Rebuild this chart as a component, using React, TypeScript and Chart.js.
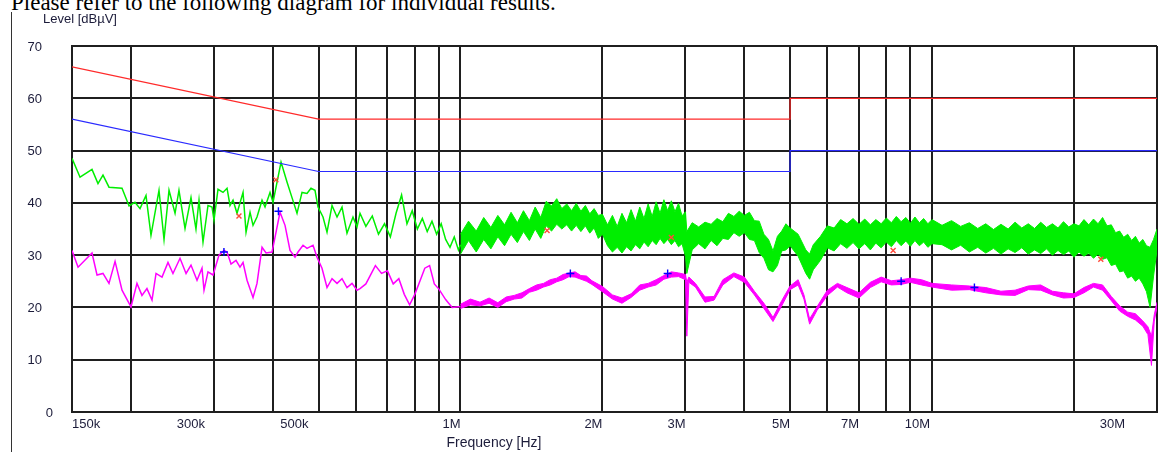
import React, { useEffect, useRef } from 'react';
import { Chart, registerables } from 'chart.js';

Chart.register(...registerables);

// ---------- data ----------
const gridFreqs = [
  150e3, 200e3, 300e3, 400e3, 500e3, 600e3, 700e3, 800e3, 900e3,
  1e6, 2e6, 3e6, 4e6, 5e6, 6e6, 7e6, 8e6, 9e6, 10e6, 20e6, 30e6,
];
const xTickValues = [150e3, 300e3, 500e3, 1e6, 2e6, 3e6, 5e6, 7e6, 10e6, 30e6];
const xTickLabels = ['150k', '300k', '500k', '1M', '2M', '3M', '5M', '7M', '10M', '30M'];
const yTickValues = [0, 10, 20, 30, 40, 50, 60, 70];

// limits (kHz, dBµV)
const qpLimitFreq = [150, 500, 5000, 5000, 30000];
const qpLimitLevel = [66, 56, 56, 60, 60];
const avLimitFreq = [150, 500, 5000, 5000, 30000];
const avLimitLevel = [56, 46, 46, 50, 50];

// final measurement markers (kHz, dBµV)
const qpMarkFreq = [339, 406, 1526, 2800, 8270, 22800];
const qpMarkLevel = [37.5, 44.4, 34.7, 33.4, 30.9, 29.2];
const avMarkFreq = [315, 411, 1710, 2750, 8600, 12300];
const avMarkLevel = [30.6, 38.4, 26.5, 26.5, 25.0, 23.8];

// peak trace (green), 150 kHz – 1 MHz, single sweep line
const peakFreq = [
  150, 156, 165.4, 170.3, 174.5, 179.7, 191.5, 198.2, 204, 209.1, 215.3, 220.6, 229.4, 235.1,
  240.9, 248.1, 252.9, 260.5, 268.2, 274.8, 278.9, 284.4, 291.4, 297.2, 300.1, 306, 313.6,
  319.8, 324.5, 329.3, 335.8, 345.8, 350.9, 357.8, 363.1, 370.2, 379.4, 385, 394.5, 400.3,
  416.3, 428.6, 439.2, 450.1, 461.2, 472.6, 481.9, 491.4, 498.7, 511, 521.1, 534, 547.2,
  560.7, 574.5, 591.6, 603.3, 612.2,
  630, 650, 670, 690, 710, 730, 750, 770, 790, 810, 830, 850, 870, 890, 910, 930, 950, 970, 990,
  1000,
];
const peakLevel = [
  48.5, 44.9, 46.4, 43.7, 45.3, 43.0, 42.8, 39.4, 40.1, 38.9, 41.4, 33.8, 42.4, 33.0,
  42.4, 38.0, 42.4, 35.1, 41.0, 35.0, 40.5, 32.5, 39.5, 39.2, 36.7, 42.6, 42.0,
  42.8, 39.5, 40.5, 38.0, 42.0, 34.4, 38.2, 35.7, 37.3, 40.5, 39.2, 42.0, 40.1,
  47.8, 44.0, 41.0, 38.0, 42.0, 41.8, 42.8, 42.4, 39.2, 37.3, 34.4, 39.5, 37.3,
  39.2, 34.2, 37.3, 35.4, 38.0,
  35.5, 37.5, 34, 36, 33.5, 38, 41.5, 36, 38.5, 35, 37, 34.5, 36.5, 34, 36, 33, 31.5, 33.5, 31,
  32,
];

// peak trace (green), 1 MHz – 30 MHz, dense sweep: upper / lower envelope
const peakBandFreq = [
  1000, 1040, 1080, 1120, 1160, 1200, 1240, 1280, 1320, 1360, 1400, 1440, 1480, 1520, 1560,
  1600, 1640, 1680, 1720, 1760, 1800, 1840, 1880, 1920, 1960, 2000,
  2050, 2100, 2150, 2200, 2250, 2300, 2350, 2400, 2450, 2500, 2550, 2600, 2650, 2700, 2750,
  2800, 2850, 2900, 2950, 3000, 3020,
  3100, 3200, 3300, 3400, 3500, 3600, 3700, 3800, 3900, 4000, 4100, 4200, 4300, 4400, 4500,
  4600, 4700, 4800, 4900, 5000,
  5200, 5400, 5500, 5600, 5800, 6000, 6200, 6400, 6600, 6800, 7000, 7200, 7400, 7600, 7800,
  8000, 8200, 8400, 8600, 8800, 9000, 9200, 9400, 9600, 9800, 10000,
  10500, 11000, 11500, 12000, 12500, 13000, 13500, 14000, 14500, 15000, 15500, 16000, 16500,
  17000, 17500, 18000, 18500, 19000, 19500, 20000, 20500, 21000, 21500, 22000, 22500, 23000,
  23500, 24000, 24500, 25000, 25500, 26000, 26500, 27000, 27500, 28000, 28500, 29000, 29500,
  30000,
];
const peakBandUpper = [
  34.0, 36.5, 34.6, 37.2, 35.3, 37.6, 35.8, 38.2, 36.2, 38.5, 36.6, 39.2, 37.2, 40.3, 39.4,
  40.8, 38.9, 39.8, 38.5, 39.9, 38.4, 39.5, 37.9, 38.9, 37.6, 37.8,
  35.8, 37.6, 35.5, 38.0, 36.2, 38.7, 36.5, 39.2, 37.0, 39.8, 37.4, 40.2, 38.0, 40.6, 38.5,
  40.4, 38.3, 39.9, 37.5, 38.3, 34.5,
  36.2, 35.4, 36.3, 35.9, 37.0, 36.4, 38.0, 37.4, 38.4, 37.6, 38.2, 36.6, 36.5, 34.0, 33.0,
  30.8, 33.6, 34.6, 36.0, 35.2,
  34.0, 31.0, 30.2, 32.0, 33.6, 35.6, 35.2, 36.8, 36.0, 37.0, 35.9, 36.9, 35.8, 36.8, 36.0,
  37.1, 36.2, 37.4, 36.4, 37.2, 36.1, 37.3, 36.2, 37.0, 36.0, 36.8,
  35.7, 36.6, 35.5, 36.2, 35.1, 36.0, 34.9, 35.9, 35.0, 36.3, 35.2, 36.0, 35.1,
  36.3, 35.3, 36.0, 35.2, 36.4, 35.4, 36.0, 35.6, 36.8, 35.8, 36.9, 36.0, 37.2,
  35.6, 35.8, 34.3, 34.6, 33.4, 34.0, 32.8, 33.6, 32.3, 33.0, 31.8, 31.5, 33.0,
  35.0,
];
const peakBandLower = [
  30.2, 32.8, 30.6, 33.0, 31.2, 33.5, 31.8, 34.0, 32.4, 34.5, 32.8, 35.0, 33.2, 35.6, 34.6,
  35.9, 35.0, 35.8, 34.6, 35.7, 34.5, 35.6, 34.2, 35.2, 33.2, 34.0,
  31.8, 30.6, 31.5, 30.4, 31.6, 30.8, 32.0, 31.2, 32.5, 31.6, 32.8, 32.0, 33.2, 32.2, 33.0,
  32.0, 32.8, 31.6, 32.2, 29.8, 26.5,
  31.0, 32.2, 31.2, 32.8, 31.8, 33.2, 33.0, 34.3, 33.6, 34.3, 33.0, 32.8, 30.5, 29.4, 27.2,
  26.8, 28.0, 30.8, 31.0, 31.8,
  29.8, 26.5, 25.4, 27.2, 29.0, 31.4, 30.8, 32.2, 31.3, 32.4, 31.2, 32.2, 31.0, 32.3, 31.4,
  32.5, 31.6, 32.8, 31.8, 32.7, 31.7, 32.8, 31.8, 32.5, 31.5, 32.2,
  32.0, 31.0, 31.9, 30.6, 31.5, 30.4, 31.3, 30.2, 31.2, 30.5, 31.4, 30.2, 31.0,
  30.3, 31.2, 30.0, 30.9, 30.1, 30.8, 29.6, 30.6, 29.8, 30.4, 29.4, 30.2, 29.2,
  29.5, 28.0, 28.3, 26.8, 27.0, 25.6, 26.0, 25.0, 25.6, 24.5, 23.0, 20.0, 26.0,
  31.0,
];

// average trace (magenta), 150 kHz – 1 MHz
const avgFreq = [
  150, 154.5, 165.4, 169.5, 174.5, 179.7, 185.1, 191.5, 200.1, 206, 211.1, 216.3, 221.7, 226.1,
  232.8, 239.7, 245.6, 254.2, 261.8, 268.2, 276.2, 283, 285.8, 291.4, 298.7, 307.5, 315.1,
  319.8, 326.1, 334.1, 340.7, 345.8, 352.6, 363.1, 370.2, 379.4, 386.9, 398.4, 404.2, 414.2,
  424.5, 435, 445.7, 452.3, 463.5, 472.6, 486.7, 496.3, 508.5, 521.1, 534, 547.2, 560.7,
  574.5, 588.8, 603.3, 612.2,
  630, 660, 680, 700, 720, 740, 760, 780, 800, 820, 840, 860, 880, 900, 930, 960, 1000,
];
const avgLevel = [
  30.9, 27.7, 30.4, 26.2, 26.5, 24.6, 28.8, 23.3, 20.1, 24.6, 22.3, 23.6, 21.4, 26.5,
  25.8, 28.6, 26.5, 29.4, 26.5, 28.1, 25.2, 27.5, 23.3, 26.8, 26.2, 30.0, 30.9,
  30.6, 28.3, 29.0, 27.7, 28.6, 25.2, 21.9, 24.6, 31.5, 30.4, 30.6, 33.4, 38.2,
  35.7, 30.9, 29.6, 30.6, 31.9, 31.3, 31.9, 29.6, 27.5, 23.8, 25.5, 24.6, 25.5,
  23.8, 24.6, 23.3, 23.6,
  24.5, 28, 26.5, 27, 24.5, 25.5, 22.5, 20.5, 22.5, 25, 27.5, 28, 24.5, 23.5, 21.5, 20, 20.2,
];

// average trace (magenta), 1 MHz – 30 MHz: upper / lower envelope
const avgBandFreq = [
  1000, 1050, 1100, 1150, 1200, 1250, 1300, 1350, 1400, 1450, 1500, 1550, 1600, 1650, 1700,
  1750, 1800, 1850, 1900, 2000, 2100, 2200, 2300, 2400, 2500, 2600, 2700, 2800, 2900, 3000,
  3020, 3050, 3150, 3300, 3450, 3600, 3800, 4000, 4200, 4400, 4600, 4800, 5000, 5200, 5350,
  5500, 5700, 6000, 6300, 6600, 7000, 7400, 7800, 8200, 8600, 9000, 9500, 10000, 11000, 12000,
  13000, 14000, 15000, 16000, 17000, 18000, 19000, 20000, 21000, 22000, 23000, 24000, 25000,
  26000, 27000, 28000, 28700, 29200, 29600, 30000,
];
const avgBandUpper = [
  20.6, 21.6, 21.0, 21.8, 20.9, 22.0, 22.3, 22.8, 23.6, 24.3, 24.6, 25.3, 25.6, 26.3, 26.6,
  26.8, 26.1, 26.0, 25.1, 24.0, 22.4, 21.8, 22.6, 24.3, 24.6, 25.3, 26.1, 26.8, 26.6, 26.3,
  24.8, 25.8, 24.6, 22.0, 22.1, 25.3, 26.6, 25.8, 23.1, 20.8, 18.1, 21.3, 24.1, 25.3, 22.4,
  17.8, 20.1, 23.3, 24.6, 23.8, 22.8, 24.8, 25.8, 25.1, 25.3, 25.6, 25.3, 24.6, 24.3, 24.1,
  23.8, 23.1, 23.3, 24.1, 24.3, 23.1, 22.8, 22.6, 23.8, 24.6, 24.3, 22.1, 20.3,
  19.1, 18.8, 17.4, 16.3, 14.5, 18.6, 21.0,
];
const avgBandLower = [
  19.8, 20.5, 20.3, 20.8, 20.0, 21.1, 21.6, 21.8, 22.9, 23.3, 23.9, 24.3, 24.9, 25.3, 25.9,
  25.8, 25.4, 25.0, 24.4, 23.0, 21.6, 20.8, 21.9, 23.3, 23.9, 24.3, 25.4, 25.8, 25.9, 25.3,
  14.5, 24.8, 23.9, 21.0, 21.4, 24.3, 25.9, 24.8, 22.4, 19.8, 17.3, 20.3, 23.4, 24.3, 21.6,
  16.8, 19.4, 22.3, 23.9, 22.8, 21.8, 23.8, 24.9, 24.3, 24.4, 24.8, 24.3, 23.9, 23.3, 23.4,
  22.8, 22.4, 22.3, 23.4, 23.3, 22.4, 21.8, 21.9, 22.8, 23.9, 23.3, 21.3, 19.3,
  18.3, 17.6, 16.4, 14.8, 8.9, 17.4, 20.0,
];

const AXIS_COLOR = '#1f1f1f';
const TEXT_COLOR = '#1c1c3a';
const FONT = "'Liberation Sans', Arial, sans-serif";
const GREEN = '#00ee00';
const MAGENTA = '#ff00ff';

function pts(f: number[], l: number[]) {
  return f.map((v, i) => ({ x: v * 1000, y: l[i] }));
}

const labelPlugin = {
  id: 'emcLabels',
  afterDraw(chart: any) {
    const ctx = chart.ctx as CanvasRenderingContext2D;
    const xs = chart.scales.x;
    const ys = chart.scales.y;
    ctx.save();
    ctx.fillStyle = TEXT_COLOR;
    ctx.font = `13px ${FONT}`;
    ctx.textBaseline = 'middle';
    ctx.textAlign = 'right';
    yTickValues.forEach((v) => {
      const y = ys.getPixelForValue(v) + 1;
      ctx.fillText(String(v), v === 0 ? 53 : 42, y);
    });
    const shifts = [0, -9, -10, 0, 0, 0, 0, 0, -2, -32];
    xTickValues.forEach((v, i) => {
      const x = xs.getPixelForValue(v);
      ctx.textAlign = i === 0 ? 'left' : 'right';
      ctx.fillText(xTickLabels[i], x + shifts[i], 424);
    });
    ctx.textAlign = 'left';
    ctx.fillText('Level [dBµV]', 43, 19);
    ctx.textAlign = 'center';
    ctx.font = `14px ${FONT}`;
    ctx.fillText('Frequency [Hz]', 494, 443);
    ctx.restore();
  },
};

const lineDefaults = { pointRadius: 0, tension: 0, fill: false };

export default function App() {
  const ref = useRef<HTMLCanvasElement | null>(null);
  useEffect(() => {
    if (!ref.current) return;
    const chart = new Chart(ref.current, {
      type: 'line',
      data: {
        datasets: [
          {
            label: 'QP final',
            data: pts(qpMarkFreq, qpMarkLevel),
            showLine: false,
            pointStyle: 'crossRot',
            pointRadius: 3.5,
            pointBorderWidth: 1.4,
            pointBorderColor: '#ff4a3a',
            borderColor: '#ff4a3a',
          },
          {
            label: 'AV final',
            data: pts(avMarkFreq, avMarkLevel),
            showLine: false,
            pointStyle: 'cross',
            pointRadius: 4,
            pointBorderWidth: 1.4,
            pointBorderColor: '#0000ff',
            borderColor: '#0000ff',
          },
          { label: 'QP limit', data: pts(qpLimitFreq, qpLimitLevel), borderColor: '#ff2a2a', borderWidth: 1.2, ...lineDefaults },
          { label: 'AV limit', data: pts(avLimitFreq, avLimitLevel), borderColor: '#2a2aff', borderWidth: 1.2, ...lineDefaults },
          { label: 'Peak', data: pts(peakFreq, peakLevel), borderColor: GREEN, borderWidth: 1.5, ...lineDefaults },
          { label: 'Peak max', data: pts(peakBandFreq, peakBandUpper), borderColor: GREEN, borderWidth: 1, ...lineDefaults },
          {
            label: 'Peak min',
            data: pts(peakBandFreq, peakBandLower),
            borderColor: GREEN,
            borderWidth: 1,
            pointRadius: 0,
            tension: 0,
            fill: '-1',
            backgroundColor: GREEN,
          },
          { label: 'Average', data: pts(avgFreq, avgLevel), borderColor: MAGENTA, borderWidth: 1.5, ...lineDefaults },
          { label: 'Average max', data: pts(avgBandFreq, avgBandUpper), borderColor: MAGENTA, borderWidth: 1, ...lineDefaults },
          {
            label: 'Average min',
            data: pts(avgBandFreq, avgBandLower),
            borderColor: MAGENTA,
            borderWidth: 1,
            pointRadius: 0,
            tension: 0,
            fill: '-1',
            backgroundColor: MAGENTA,
          },
        ],
      },
      options: {
        animation: false,
        responsive: false,
        maintainAspectRatio: false,
        devicePixelRatio: 1,
        layout: { padding: { left: 72, top: 46, right: 10, bottom: 40 } },
        plugins: {
          legend: { display: false },
          tooltip: { enabled: false },
          title: { display: false },
        },
        scales: {
          x: {
            type: 'logarithmic',
            min: 150e3,
            max: 30e6,
            afterBuildTicks: (s: any) => {
              s.ticks = gridFreqs.map((v) => ({ value: v }));
            },
            ticks: { display: false },
            grid: { color: AXIS_COLOR, lineWidth: 2, drawTicks: false },
            border: { display: true, color: AXIS_COLOR, width: 2 },
          },
          y: {
            type: 'linear',
            min: 0,
            max: 70,
            afterBuildTicks: (s: any) => {
              s.ticks = yTickValues.map((v) => ({ value: v }));
            },
            ticks: { display: false },
            grid: { color: AXIS_COLOR, lineWidth: 2, drawTicks: false },
            border: { display: true, color: AXIS_COLOR, width: 2 },
          },
        },
      },
      plugins: [labelPlugin],
    });
    return () => chart.destroy();
  }, []);

  return (
    <div style={{ position: 'absolute', left: 0, top: 0, width: 1167, height: 452, overflow: 'hidden', background: '#fff' }}>
      <div
        style={{
          position: 'absolute',
          left: 11,
          top: -9,
          fontFamily: "'Liberation Serif', 'Times New Roman', serif",
          fontSize: 23,
          lineHeight: '23px',
          whiteSpace: 'nowrap',
          color: '#000',
        }}
      >
        Please refer to the following diagram for individual results.
      </div>
      <div style={{ position: 'absolute', left: 11, top: 12, width: 1, height: 440, background: '#333' }} />
      <canvas ref={ref} width={1167} height={452} style={{ position: 'absolute', left: 0, top: 0, width: 1167, height: 452 }} />
    </div>
  );
}
